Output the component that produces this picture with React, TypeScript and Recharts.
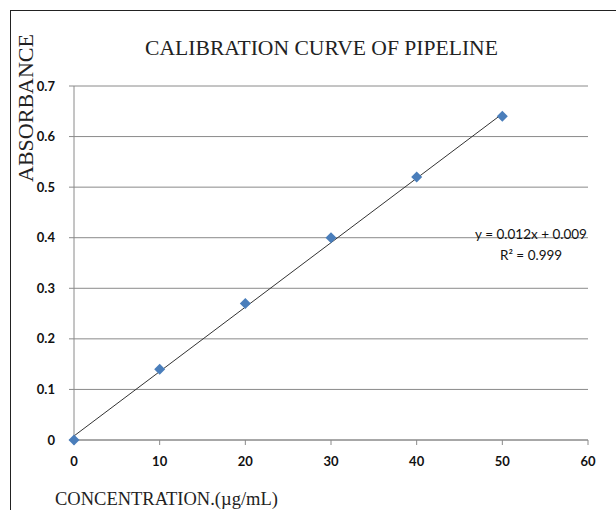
import { CartesianGrid, ReferenceDot, Scatter, ScatterChart, XAxis, YAxis } from 'recharts';

const concentration = [0, 10, 20, 30, 40, 50];
const absorbance = [0, 0.14, 0.27, 0.4, 0.52, 0.64];
const trendX = [0, 50];
const trendY = [0.008, 0.645];
const xTicks = [0, 10, 20, 30, 40, 50, 60];
const yTicks = [0, 0.1, 0.2, 0.3, 0.4, 0.5, 0.6, 0.7];
const equation = 'y = 0.012x + 0.009';
const rSquared = 'R² = 0.999';

const points = concentration.map((x, i) => ({ x, y: absorbance[i] }));
const trend = trendX.map((x, i) => ({ x, y: trendY[i] }));

const tickStyle = { fill: '#111', fontSize: 13, fontWeight: 700, fontFamily: 'Lato, sans-serif' };
const axisGray = '#8a8a8a';
const serif = { fontFamily: '"Liberation Serif", "Times New Roman", serif', fill: '#222' };

function Diamond(props: any) {
  const { cx, cy } = props;
  if (cx == null || cy == null) return <g />;
  const r = 5.5;
  return <polygon points={`${cx},${cy - r} ${cx + r},${cy} ${cx},${cy + r} ${cx - r},${cy}`} fill="#4a7ebb" />;
}

function NoShape() {
  return <g />;
}

function EquationLabel(props: any) {
  const vb = props.viewBox || {};
  const x = vb.x ?? 0;
  const y = vb.y ?? 0;
  const st = { fontFamily: 'Lato, sans-serif', fontSize: 13.5, fill: '#111' };
  return (
    <g>
      <text x={x} y={y + 1} textAnchor="middle" style={st}>{equation}</text>
      <text x={x} y={y + 22} textAnchor="middle" style={st}>{rSquared}</text>
    </g>
  );
}

export default function App() {
  return (
    <div style={{ position: 'absolute', left: 0, top: 0, width: 616, height: 510, overflow: 'hidden', background: '#fff' }}>
      <div style={{ position: 'absolute', left: 10, top: 10, width: 640, height: 540, border: '1px solid #222' }} />
      <ScatterChart width={616} height={510} margin={{ top: 86, right: 28, bottom: 40, left: 0 }}>
        <CartesianGrid vertical={false} stroke={axisGray} />
        <XAxis
          type="number"
          dataKey="x"
          domain={[0, 60]}
          ticks={xTicks}
          height={30}
          stroke={axisGray}
          tickSize={5}
          tickMargin={12}
          tick={tickStyle}
        />
        <YAxis
          type="number"
          dataKey="y"
          domain={[0, 0.7]}
          ticks={yTicks}
          width={74}
          stroke={axisGray}
          tickSize={5}
          tickMargin={14}
          tick={tickStyle}
          tickFormatter={(v: number) => (v === 0 ? '0' : v.toFixed(1))}
        />
        <Scatter data={trend} line={{ stroke: '#333', strokeWidth: 1 }} shape={NoShape} isAnimationActive={false} />
        <Scatter data={points} shape={Diamond} isAnimationActive={false} />
        <ReferenceDot x={53.35} y={0.4} r={0} fill="none" stroke="none" label={<EquationLabel />} />
      </ScatterChart>
      <svg width={616} height={510} style={{ position: 'absolute', left: 0, top: 0, pointerEvents: 'none' }}>
        <text x={321.5} y={55} textAnchor="middle" style={{ ...serif, fontSize: 21.6 }}>CALIBRATION CURVE OF PIPELINE</text>
        <text transform="translate(33,108) rotate(-90)" textAnchor="middle" style={{ ...serif, fontSize: 22 }}>ABSORBANCE</text>
        <text x={55} y={505} style={{ ...serif, fontSize: 18.5 }}>CONCENTRATION.(µg/mL)</text>
      </svg>
    </div>
  );
}
